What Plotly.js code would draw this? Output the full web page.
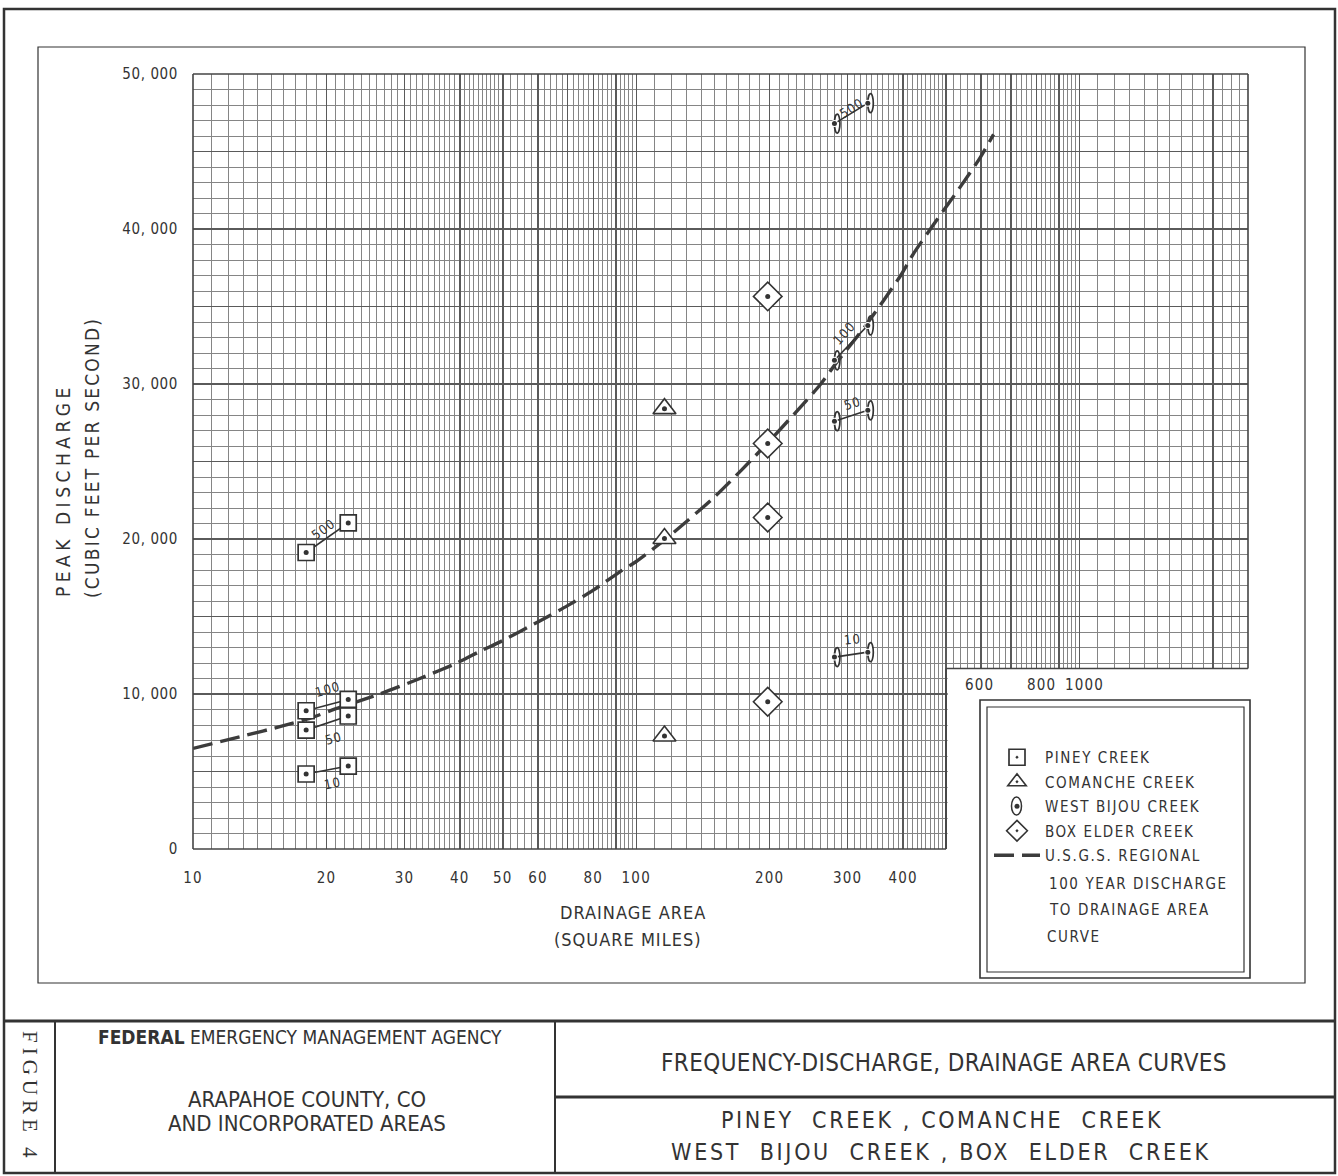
<!DOCTYPE html>
<html><head><meta charset="utf-8">
<script src="https://cdn.plot.ly/plotly-3.0.1.min.js"></script>
<style>body{margin:0;background:#fff;}</style>
</head><body>
<div id="chart" style="width:1338px;height:1176px;"></div>
<script>
// ---------------- DATA ----------------
const pineyArea = [18.0, 22.4];
const piney10 = [4840, 5350];
const piney50 = [7670, 8580];
const piney100 = [8920, 9650];
const piney500 = [19130, 21040];

const comancheArea = [115.8, 115.8, 115.8];
const comancheQ = [28410, 20030, 7290];

const boxElderArea = [198, 198, 198, 198];
const boxElderQ = [35650, 26160, 21390, 9500];

const bijouArea = [280, 333];
const bijou10 = [12380, 12700];
const bijou50 = [27600, 28300];
const bijou100 = [31530, 33780];
const bijou500 = [46800, 48120];

const usgsArea = [10, 13.2, 15.7, 18.4, 21.5, 26.4, 32.5, 39.4, 44.4, 50, 60, 70, 80, 92, 100, 116, 150, 198, 260, 280, 330, 395, 422, 476, 538, 598, 640];
const usgsQ = [6490, 7350, 7890, 8450, 9150, 10000, 11000, 12000, 12750, 13450, 14650, 15700, 16700, 17900, 18550, 19950, 22700, 26200, 29950, 31200, 33800, 37000, 38400, 40560, 42700, 44640, 46100];

const periodLabels = ['10', '50', '100', '500'];

const xMajorVals = [10,20,30,40,50,60,70,80,90,100,200,300,400,500,600,700,800,900,1000,2000];
const xMajorText = ['10','20','30','40','50','60','','80','','100','200','300','400','','','','','','',''];
const yMajorVals = [0,5000,10000,15000,20000,25000,30000,35000,40000,45000,50000];
const yMajorText = ['0','','10,000','','20,000','','30,000','','40,000','','50,000'];
const upperXLabels = ['600', '800', '1000'];
const upperXVals = [600, 800, 1000];

const X_MAX = 2400, Y_MAX = 50000, CUT_X = 500, CUT_Y = 11650;

// ---------------- helpers ----------------
const X0 = 193, W = 1055, Y1 = 849, H = 775;
const px2x = p => (p - X0) / W;
const py2y = p => (Y1 - p) / H;
const FONT = "'Liberation Sans Narrow', 'DejaVu Sans Condensed', 'Roboto', sans-serif";
const SERIF = "'Liberation Serif', 'DejaVu Serif', serif";
const INK = '#333333';
const ls = (t, s) => '<span style="letter-spacing:' + s + 'px">' + t + '</span>';

// graph-paper rulings
const xMinor = [];
[10, 100, 1000].forEach(d => {
  for (let v = d; v < 5 * d - 1e-9; v += d / 10) xMinor.push(+v.toFixed(3));
  for (let v = 5 * d; v < 10 * d - 1e-9; v += d / 5) xMinor.push(+v.toFixed(3));
});
const xMinorVals = xMinor.filter(v => v <= X_MAX && xMajorVals.indexOf(v) < 0);

const lx = Math.log10;
const xFrac = v => (lx(v) - 1) / (lx(X_MAX) - 1);

// ---------------- traces ----------------
const traces = [];
traces.push({
  x: usgsArea, y: usgsQ, mode: 'lines', name: ls('U.S.G.S. REGIONAL', 1.6),
  line: {color: '#3c3c3c', width: 3.4, dash: '20px,8px', shape: 'spline', smoothing: 0.6},
  legendrank: 5, legendgroup: 'g5', hoverinfo: 'skip'
});
const pairs = [[pineyArea, [piney10, piney50, piney100, piney500]], [bijouArea, [bijou10, bijou50, bijou100, bijou500]]];
pairs.forEach(([xa, ys]) => ys.forEach(yv => traces.push({
  x: xa, y: yv, mode: 'lines', showlegend: false, line: {color: INK, width: 1.6}, hoverinfo: 'skip'
})));

const pineyX = [].concat(pineyArea, pineyArea, pineyArea, pineyArea);
const pineyY = [].concat(piney10, piney50, piney100, piney500);
const bijouX = [].concat(bijouArea, bijouArea, bijouArea, bijouArea);
const bijouY = [].concat(bijou10, bijou50, bijou100, bijou500);

traces.push({x: pineyX, y: pineyY, mode: 'markers', name: ls('PINEY CREEK', 1.6), legendrank: 1, legendgroup: 'g1',
  marker: {symbol: 'square-dot', size: 16, color: '#fff', line: {color: INK, width: 1.7}}});
traces.push({x: comancheArea, y: comancheQ, mode: 'markers', name: ls('COMANCHE CREEK', 1.6), legendrank: 2, legendgroup: 'g2',
  marker: {symbol: 'triangle-up-dot', size: 20, color: '#fff', line: {color: INK, width: 1.6}}});
traces.push({x: boxElderArea, y: boxElderQ, mode: 'markers', name: ls('BOX ELDER CREEK', 1.6), legendrank: 4, legendgroup: 'g4',
  marker: {symbol: 'diamond-dot', size: 22, color: '#fff', line: {color: INK, width: 1.6}}});
traces.push({x: bijouX, y: bijouY, mode: 'markers', showlegend: false, hoverinfo: 'skip',
  marker: {symbol: 'circle', size: 7, color: '#fff', line: {width: 0}}});
traces.push({x: [].concat(pineyX, comancheArea, boxElderArea), y: [].concat(pineyY, comancheQ, boxElderQ),
  mode: 'markers', showlegend: false, hoverinfo: 'skip', marker: {symbol: 'circle', size: 5, color: INK}});
traces.push({x: bijouX, y: bijouY, mode: 'markers', name: ls('WEST BIJOU CREEK', 1.6), legendrank: 3, legendgroup: 'g3',
  marker: {symbol: 'circle', size: 5, color: INK}});

// ---------------- shapes ----------------
const shapes = [];
// blank lower-right corner of the graph paper
shapes.push({type: 'rect', xref: 'x domain', yref: 'y domain', x0: xFrac(CUT_X) + 0.0015, x1: 1.002, y0: -0.003, y1: CUT_Y / Y_MAX,
  fillcolor: '#fff', line: {width: 0}, layer: 'above'});
const border = {color: '#444', width: 1.6};
const dline = (x0, y0, x1, y1) => shapes.push({type: 'line', xref: 'x domain', yref: 'y domain', x0, y0, x1, y1, line: border, layer: 'above'});
dline(0, 1, 1, 1); dline(0, 0, 0, 1); dline(0, 0, xFrac(CUT_X), 0);
dline(1, CUT_Y / Y_MAX, 1, 1); dline(xFrac(CUT_X), CUT_Y / Y_MAX, 1, CUT_Y / Y_MAX); dline(xFrac(CUT_X), 0, xFrac(CUT_X), CUT_Y / Y_MAX);
// West Bijou ovals (pixel sized, anchored on the data values)
bijouX.forEach((a, i) => shapes.push({type: 'circle', xref: 'x', yref: 'y', xsizemode: 'pixel', ysizemode: 'pixel',
  xanchor: a, yanchor: bijouY[i], x0: -5.5, x1: 5.5, y0: -9.5, y1: 9.5, fillcolor: '#fff', line: {color: INK, width: 1.7}, layer: 'between'}));
// page frames
const pline = (x0, y0, x1, y1, w) => shapes.push({type: 'line', xref: 'paper', yref: 'paper', x0: px2x(x0), y0: py2y(y0), x1: px2x(x1), y1: py2y(y1), line: {color: INK, width: w}});
const prect = (x0, y0, x1, y1, w) => shapes.push({type: 'rect', xref: 'paper', yref: 'paper', x0: px2x(x0), y0: py2y(y0), x1: px2x(x1), y1: py2y(y1), line: {color: INK, width: w}});
prect(4, 9, 1335, 1173, 2.5);
prect(38, 47, 1305, 983, 1.2);
pline(4, 1021, 1335, 1021, 3);
pline(55, 1021, 55, 1173, 2);
pline(555, 1021, 555, 1173, 2);
pline(555, 1097, 1335, 1097, 3);
prect(980, 700, 1250, 978, 1.6);
prect(987, 707, 1244, 972, 1.2);
// legend oval for West Bijou (around the legend glyph)
shapes.push({type: 'circle', xref: 'paper', yref: 'paper', xsizemode: 'pixel', ysizemode: 'pixel',
  xanchor: px2x(1016.5), yanchor: py2y(806), x0: -5, x1: 5, y0: -9, y1: 9, line: {color: INK, width: 1.5}});

// ---------------- annotations ----------------
const annotations = [];
const pa = (text, x, y, o) => annotations.push(Object.assign({xref: 'paper', yref: 'paper', x: px2x(x), y: py2y(y),
  xanchor: 'center', yanchor: 'middle', text, showarrow: false, font: {family: FONT, size: 15, color: INK}}, o || {}));

pa(ls('PEAK DISCHARGE', 4.5), 63, 490, {textangle: -90, font: {family: FONT, size: 19, color: INK}});
pa(ls('(CUBIC FEET PER SECOND)', 2.2), 92, 458, {textangle: -90, font: {family: FONT, size: 19, color: INK}});
pa(ls('DRAINAGE AREA', 1), 633, 912, {font: {family: FONT, size: 18, color: INK}});
pa(ls('(SQUARE MILES)', 1), 628, 939, {font: {family: FONT, size: 18, color: INK}});

// legend continuation lines
pa(ls('100 YEAR DISCHARGE', 1.6), 1047, 884, {xanchor: 'left'});
pa(ls('TO DRAINAGE AREA', 1.6), 1047, 910, {xanchor: 'left'});
pa(ls('CURVE', 1.6), 1045, 937, {xanchor: 'left'});

// upper x labels (600 800 1000)
upperXVals.forEach((v, i) => annotations.push({xref: 'x', yref: 'y', x: lx(v), y: CUT_Y, yshift: -17, xshift: i ? 5 : -2,
  xanchor: 'center', yanchor: 'middle', text: ls(upperXLabels[i], 1.2), showarrow: false, font: {family: FONT, size: 15, color: INK}}));

// return period labels along the connecting lines  [xshift, yshift, angle]
const pLab = [[5, -13, -12], [6, -15, -16], [0, 16, -16], [-4, 8, -36]];
const bLab = [[1, 15, -6], [1, 12, -18], [-7, 9, -48], [0, 5, -32]];
const labelFor = (xa, ys, cfg) => ys.forEach((yv, i) => annotations.push({
  xref: 'x', yref: 'y', x: (lx(xa[0]) + lx(xa[1])) / 2, y: (yv[0] + yv[1]) / 2, xanchor: 'center', yanchor: 'middle',
  xshift: cfg[i][0], yshift: cfg[i][1], textangle: cfg[i][2], text: ls(periodLabels[i], 1),
  showarrow: false, font: {family: FONT, size: 13, color: INK}}));
labelFor(pineyArea, [piney10, piney50, piney100, piney500], pLab);
labelFor(bijouArea, [bijou10, bijou50, bijou100, bijou500], bLab);

// title block
pa(ls('FIGURE 4', 5), 30, 1097, {textangle: 90, font: {family: SERIF, size: 21, color: INK}});
pa('<b>FEDERAL</b> EMERGENCY MANAGEMENT AGENCY', 300, 1037, {font: {family: FONT, size: 19, color: INK}});
pa('ARAPAHOE COUNTY, CO', 307, 1099, {font: {family: FONT, size: 22, color: INK}});
pa('AND INCORPORATED AREAS', 307, 1123, {font: {family: FONT, size: 22, color: INK}});
pa(ls('FREQUENCY-DISCHARGE, DRAINAGE AREA CURVES', 0.4), 944, 1063, {font: {family: FONT, size: 24, color: INK}});
pa(ls('PINEY  CREEK , COMANCHE  CREEK', 2.6), 942, 1120, {font: {family: FONT, size: 23, color: INK}});
pa(ls('WEST  BIJOU  CREEK , BOX  ELDER  CREEK', 2.7), 941, 1152, {font: {family: FONT, size: 23, color: INK}});

// ---------------- layout ----------------
const layout = {
  width: 1338, height: 1176,
  margin: {l: X0, r: 1338 - X0 - W, t: Y1 - H, b: 1176 - Y1, pad: 0},
  paper_bgcolor: '#fff', plot_bgcolor: '#fff',
  showlegend: true,
  legend: {x: px2x(989), y: py2y(741), xanchor: 'left', yanchor: 'top', bgcolor: 'rgba(0,0,0,0)', borderwidth: 0,
    font: {family: FONT, size: 15, color: INK}, itemwidth: 46, traceorder: 'grouped', tracegroupgap: 2, valign: 'middle'},
  xaxis: {
    type: 'log', range: [1, lx(X_MAX)], tickmode: 'array', tickvals: xMajorVals, ticktext: xMajorText.map(t => ls(t, 1.2)),
    ticks: '', showline: false, zeroline: false, showgrid: true, gridcolor: '#5a5a5a', gridwidth: 1.4,
    ticklabelstandoff: 18, tickfont: {family: FONT, size: 15, color: INK},
    minor: {tickmode: 'array', tickvals: xMinorVals, showgrid: true, gridcolor: '#858585', gridwidth: 1, ticks: ''},
    fixedrange: true
  },
  yaxis: {
    range: [0, Y_MAX], tickmode: 'array', tickvals: yMajorVals, ticktext: yMajorText.map(t => ls(t.replace(',', ', '), 0.6)),
    ticks: '', showline: false, zeroline: false, showgrid: true, gridcolor: '#5a5a5a', gridwidth: 1.4,
    ticklabelstandoff: 14, tickfont: {family: FONT, size: 15, color: INK},
    minor: {dtick: 1000, showgrid: true, gridcolor: '#858585', gridwidth: 1, ticks: ''},
    fixedrange: true
  },
  shapes, annotations
};

Plotly.newPlot('chart', traces, layout, {displayModeBar: false, staticPlot: true});
</script>
</body></html>
